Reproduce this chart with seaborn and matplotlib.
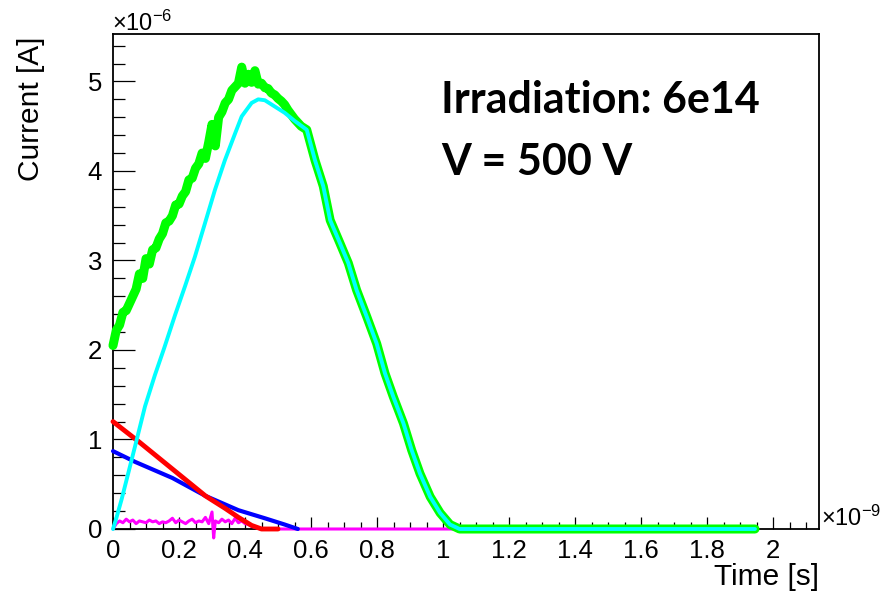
import matplotlib
matplotlib.use("Agg")
import matplotlib.pyplot as plt
import seaborn as sns
from matplotlib.ticker import MultipleLocator, FuncFormatter

# ---------------- data (time in ns, current in uA) ----------------
green_t = [0.00, 0.01, 0.02, 0.03, 0.04, 0.05, 0.06, 0.07, 0.08, 0.09,
           0.10, 0.11, 0.12, 0.13, 0.14, 0.15, 0.16, 0.17, 0.18, 0.19,
           0.20, 0.21, 0.22, 0.23, 0.24, 0.25, 0.26, 0.27, 0.28, 0.29,
           0.30, 0.31, 0.32, 0.33, 0.34, 0.35, 0.36, 0.37, 0.38, 0.39,
           0.40, 0.41, 0.42, 0.43, 0.44, 0.45, 0.46, 0.47, 0.48, 0.49,
           0.50, 0.51, 0.52, 0.53, 0.54, 0.55, 0.56, 0.57, 0.587, 0.612,
           0.637, 0.658, 0.688, 0.713, 0.738, 0.769, 0.799, 0.824, 0.849, 0.880,
           0.905, 0.930, 0.961, 0.991, 1.021, 1.050, 1.945]
green_i = [2.05, 2.22, 2.28, 2.42, 2.44, 2.52, 2.60, 2.68, 2.85, 2.80,
           3.02, 2.96, 3.12, 3.14, 3.24, 3.30, 3.42, 3.44, 3.50, 3.62,
           3.63, 3.72, 3.77, 3.90, 3.92, 4.03, 4.08, 4.20, 4.14, 4.32,
           4.52, 4.28, 4.60, 4.66, 4.76, 4.80, 4.90, 4.94, 4.98, 5.16,
           4.98, 5.08, 4.99, 5.12, 4.97, 4.98, 4.93, 4.92, 4.87, 4.85,
           4.81, 4.78, 4.74, 4.68, 4.63, 4.58, 4.54, 4.50, 4.46, 4.12,
           3.83, 3.45, 3.19, 2.97, 2.67, 2.37, 2.07, 1.74, 1.48, 1.18,
           0.88, 0.62, 0.36, 0.18, 0.05, 0.00, 0.00]

cyan_t = [0.000, 0.010, 0.026, 0.046, 0.072, 0.097, 0.127, 0.155, 0.188, 0.218,
          0.248, 0.279, 0.309, 0.339, 0.370, 0.390, 0.420, 0.440, 0.460, 0.490,
          0.520, 0.550, 0.587, 0.612, 0.637, 0.658, 0.688, 0.713, 0.738, 0.769,
          0.799, 0.824, 0.849, 0.880, 0.905, 0.930, 0.961, 0.991, 1.021, 1.050,
          1.945]
cyan_i = [0.00, 0.12, 0.33, 0.62, 1.00, 1.37, 1.72, 2.02, 2.39, 2.71,
          3.04, 3.42, 3.79, 4.12, 4.42, 4.61, 4.76, 4.80, 4.79, 4.72,
          4.65, 4.56, 4.46, 4.12, 3.83, 3.45, 3.19, 2.97, 2.67, 2.37,
          2.07, 1.74, 1.48, 1.18, 0.88, 0.62, 0.36, 0.18, 0.05, 0.00,
          0.00]

red_t = [0.00, 0.08, 0.18, 0.28, 0.34, 0.38, 0.42, 0.45, 0.50]
red_i = [1.20, 0.97, 0.67, 0.37, 0.23, 0.13, 0.04, 0.00, 0.00]

blue_t = [0.00, 0.067, 0.18, 0.28, 0.38, 0.46, 0.52, 0.56]
blue_i = [0.87, 0.75, 0.57, 0.37, 0.21, 0.12, 0.05, 0.00]

magenta_t = [0.00, 0.01, 0.02, 0.03, 0.04, 0.05, 0.06, 0.07, 0.08, 0.09,
             0.10, 0.11, 0.12, 0.13, 0.14, 0.15, 0.16, 0.17, 0.18, 0.19,
             0.20, 0.21, 0.22, 0.23, 0.24, 0.25, 0.26, 0.27, 0.28, 0.29,
             0.30, 0.305, 0.31, 0.32, 0.33, 0.34, 0.35, 0.36, 0.37, 0.38,
             0.39, 0.40, 0.41, 0.42, 0.43, 0.44, 0.45, 1.945]
magenta_i = [0.00, 0.06, 0.09, 0.07, 0.11, 0.08, 0.10, 0.06, 0.09, 0.08,
             0.07, 0.10, 0.08, 0.09, 0.06, 0.08, 0.07, 0.09, 0.12, 0.07,
             0.10, 0.08, 0.06, 0.09, 0.11, 0.07, 0.09, 0.08, 0.13, 0.06,
             0.19, -0.10, 0.09, 0.07, 0.11, 0.08, 0.10, 0.06, 0.12, 0.07,
             0.09, 0.06, 0.05, 0.03, 0.02, 0.01, 0.00, 0.00]

x_major_ticks = [0, 0.2, 0.4, 0.6, 0.8, 1, 1.2, 1.4, 1.6, 1.8, 2]
y_major_ticks = [0, 1, 2, 3, 4, 5]
annotation_lines = ["Irradiation: 6e14", "V = 500 V"]

# ---------------- style ----------------
sns.set_style("ticks")
plt.rcParams["font.family"] = ["Liberation Sans", "DejaVu Sans"]
plt.rcParams["text.color"] = "black"
plt.rcParams["mathtext.fontset"] = "custom"
plt.rcParams["mathtext.rm"] = "Liberation Sans"
plt.rcParams["mathtext.it"] = "Liberation Sans:italic"
plt.rcParams["mathtext.bf"] = "Liberation Sans:bold"

W, H = 894, 596
fig = plt.figure(figsize=(W / 100, H / 100), dpi=100, facecolor="white")
ax = fig.add_axes([113 / W, 1 - 529 / H, (819 - 113) / W, (529 - 34) / H])
ax.set_facecolor("white")

kw = dict(ax=ax, sort=False, estimator=None, legend=False)
sns.lineplot(x=magenta_t, y=magenta_i, color="#ff00ff", linewidth=2.2, **kw)
sns.lineplot(x=blue_t, y=blue_i, color="#0000ff", linewidth=3.0, **kw)
sns.lineplot(x=red_t, y=red_i, color="#ff0000", linewidth=3.5, **kw)
sns.lineplot(x=green_t, y=green_i, color="#00ff00", linewidth=6.5, **kw)
sns.lineplot(x=cyan_t, y=cyan_i, color="#00ffff", linewidth=2.8, **kw)
for ln in ax.lines:
    ln.set_zorder(3)
    ln.set_clip_on(False)

ax.set_xlim(0, 2.139)
ax.set_ylim(0, 5.53)
ax.set_xticks(x_major_ticks)
ax.set_yticks(y_major_ticks)
ax.xaxis.set_minor_locator(MultipleLocator(0.05))
ax.yaxis.set_minor_locator(MultipleLocator(0.2))
fmt = FuncFormatter(lambda v, p: f"{v:g}")
ax.xaxis.set_major_formatter(fmt)
ax.yaxis.set_major_formatter(fmt)

ax.tick_params(axis="both", which="both", direction="in", width=0.9,
               color="black", labelsize=18.5, labelcolor="black",
               top=False, right=False)
ax.tick_params(axis="y", which="major", length=16, pad=8)
ax.tick_params(axis="y", which="minor", length=8.6)
ax.tick_params(axis="x", which="major", length=9, pad=7)
ax.tick_params(axis="x", which="minor", length=4.7)
for s in ax.spines.values():
    s.set_linewidth(1.3)
    s.set_color("black")
    s.set_zorder(2.5)
ax.set_xlabel("")
ax.set_ylabel("")

# axis titles
fig.text(819 / W, 1 - 585 / H, "Time [s]", ha="right", va="baseline",
         fontsize=21.5, color="black")
fig.text(31 / W, 1 - 37 / H, "Current [A]", ha="center", va="top",
         rotation=90, fontsize=21.5, color="black")
# exponents
fig.text(112 / W, 1 - 31 / H, r"$\times\mathregular{10^{-6}}$", ha="left",
         va="baseline", fontsize=17, color="black")
fig.text(821 / W, 1 - 526 / H, r"$\times\mathregular{10^{-9}}$", ha="left",
         va="baseline", fontsize=17, color="black")

# annotation
fig.text(441 / W, 1 - 113 / H, annotation_lines[0], ha="left", va="baseline",
         fontsize=31, fontweight="bold", color="black",
         family=["Lato", "DejaVu Sans"])
fig.text(441 / W, 1 - 175 / H, annotation_lines[1], ha="left", va="baseline",
         fontsize=31, fontweight="bold", color="black",
         family=["Lato", "DejaVu Sans"])

fig.savefig("out.png", dpi=100, facecolor="white")
